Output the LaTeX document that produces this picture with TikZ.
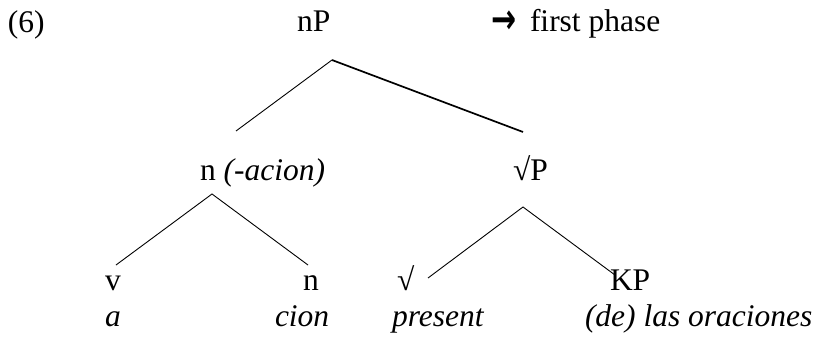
\documentclass[tikz,border=0pt]{standalone}
\usepackage{fontspec}
\usepackage{graphicx}
\setmainfont{Liberation Serif}
\newfontfamily\arrowfont{DejaVu Sans}
\begin{document}
\begin{tikzpicture}[x=1pt,y=-1pt,
  lbl/.style={anchor=base west,inner sep=0pt,outer sep=0pt,font=\fontsize{31.5}{36}\selectfont},
  thinedge/.style={line width=0.9pt,black},
  thickedge/.style={line width=1.7pt,black}]
\useasboundingbox (0,0) rectangle (817,337);
% labels
\node[lbl] (ex) at (8,33) {(6)};
\node[lbl] (nP) at (297,32) {nP};
\node[lbl] (arr) at (491,34) {\arrowfont\bfseries\fontsize{30}{34}\selectfont\scalebox{1}[1.4]{→}};
\node[lbl] (phase) at (530,32) {first phase};
\node[lbl] (nacion) at (200,180) {n \textit{(-acion)}};
\node[lbl] (rootP) at (513,180) {√P};
\node[lbl] (v) at (105,290) {v};
\node[lbl] (n) at (303,290) {n};
\node[lbl] (root) at (397,290) {√};
\node[lbl] (KP) at (610,290) {KP};
\node[lbl] (a) at (105,326) {\textit{a}};
\node[lbl] (cion) at (275,326) {\textit{cion}};
\node[lbl] (present) at (392,326) {\textit{present}};
\node[lbl] (oraciones) at (585,326) {\textit{(de) las oraciones}};
% edge end points
\coordinate (nPtop) at (332,60);
\coordinate (nPl) at (236,131);
\coordinate (nPr) at (523,132);
\coordinate (ntop) at (212,194);
\coordinate (nl) at (116,265);
\coordinate (nr) at (308,265);
\coordinate (rtop) at (523,207);
\coordinate (rl) at (428,278);
\coordinate (rr) at (615,275);
% edges
\draw[thinedge] (nPtop) -- (nPl);
\draw[thickedge] (nPtop) -- (nPr);
\draw[thinedge] (nl) -- (ntop) -- (nr);
\draw[thinedge] (rl) -- (rtop) -- (rr);
\end{tikzpicture}
\end{document}
